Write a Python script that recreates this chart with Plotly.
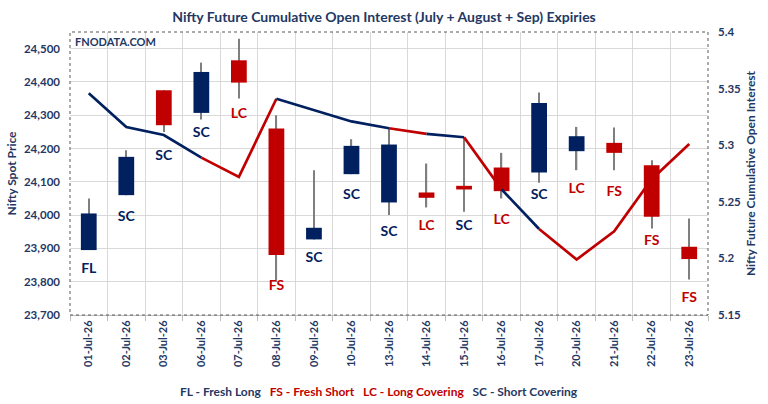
import plotly.graph_objects as go

dates = ['01-Jul-26', '02-Jul-26', '03-Jul-26', '06-Jul-26', '07-Jul-26', '08-Jul-26',
         '09-Jul-26', '10-Jul-26', '13-Jul-26', '14-Jul-26', '15-Jul-26', '16-Jul-26',
         '17-Jul-26', '20-Jul-26', '21-Jul-26', '22-Jul-26', '23-Jul-26']
open_ = [23895, 24060, 24375, 24307, 24465, 24260, 23927, 24123, 24038, 24068, 24088,
         24143, 24128, 24192, 24217, 24150, 23905]
close = [24005, 24175, 24270, 24430, 24398, 23880, 23962, 24208, 24212, 24052, 24077,
         24072, 24337, 24237, 24187, 23995, 23868]
high = [24050, 24195, 24375, 24458, 24530, 24300, 24135, 24228, 24260, 24155, 24232,
        24187, 24368, 24265, 24263, 24165, 23990]
low = [23895, 24060, 24250, 24287, 24350, 23800, 23927, 24123, 24000, 24023, 24010,
       24050, 24097, 24135, 24135, 23960, 23807]
oi = [5.346, 5.316, 5.309, 5.289, 5.272, 5.341, 5.331, 5.321, 5.315, 5.310, 5.307,
      5.261, 5.226, 5.199, 5.224, 5.270, 5.301]
labels = ['FL', 'SC', 'SC', 'SC', 'LC', 'FS', 'SC', 'SC', 'SC', 'LC', 'SC', 'LC', 'SC',
          'LC', 'FS', 'FS', 'FS']
label_y = [23837, 23992, 24175, 24245, 24303, 23787, 23870, 24058, 23948, 23967, 23967,
           23983, 24058, 24077, 24068, 23920, 23750]
right_ticks = [5.15, 5.2, 5.25, 5.3, 5.35, 5.4]

BLUE = '#002060'
RED = '#C00000'
TXT = '#1F3864'
FONT = 'Lato'


def lab_color(lab):
    return BLUE if lab in ('FL', 'SC') else RED


fig = go.Figure()

# wicks
fig.add_trace(go.Bar(
    x=dates, base=low, y=[h - l for h, l in zip(high, low)],
    width=0.035, marker=dict(color='#7F7F7F', line=dict(width=0)),
    hoverinfo='skip', showlegend=False))

# bodies
fig.add_trace(go.Bar(
    x=dates, base=[min(o, c) for o, c in zip(open_, close)],
    y=[abs(c - o) for o, c in zip(open_, close)],
    width=0.42,
    marker=dict(color=[BLUE if c >= o else RED for o, c in zip(open_, close)],
                line=dict(width=0)),
    showlegend=False))

# labels
fig.add_trace(go.Scatter(
    x=dates, y=label_y, mode='text', text=labels,
    textfont=dict(family=FONT, size=14, color=[lab_color(l) for l in labels], weight='bold'),
    showlegend=False, hoverinfo='skip'))

# OI line, coloured by segment
runs = []
cur = None
for i in range(1, len(dates)):
    col = lab_color(labels[i])
    if cur is None or cur[0] != col:
        cur = [col, [i - 1, i]]
        runs.append(cur)
    else:
        cur[1].append(i)
for col, idx in runs:
    fig.add_trace(go.Scatter(
        x=[dates[k] for k in idx], y=[oi[k] for k in idx], mode='lines',
        line=dict(color=col, width=2.7), yaxis='y2', showlegend=False))

fig.update_layout(
    width=768, height=404,
    margin=dict(l=68, r=60, t=32, b=89),
    paper_bgcolor='white', plot_bgcolor='white',
    barmode='overlay', showlegend=False,
    title=dict(text='Nifty Future Cumulative Open Interest (July + August + Sep) Expiries',
               x=0.5, xanchor='center', y=0.958, yanchor='middle',
               font=dict(family=FONT, size=14, color=TXT, weight='bold')),
    xaxis=dict(type='category', tickangle=-90, tickson='boundaries',
               ticks='outside', ticklen=5, tickcolor='#BFBFBF',
               showgrid=True, gridcolor='#D9D9D9', gridwidth=1,
               showline=True, linecolor='#BFBFBF',
               tickfont=dict(family=FONT, size=11, color=TXT, weight='bold'),
               range=[-0.5, len(dates) - 0.5]),
    yaxis=dict(range=[23700, 24550], dtick=100, tick0=23700, tickformat=',d',
               showgrid=True, gridcolor='#D9D9D9', zeroline=False,
               ticklabelstandoff=9,
               tickfont=dict(family=FONT, size=11.5, color=TXT, weight='bold'),
               title=dict(text='Nifty Spot Price', standoff=4,
                          font=dict(family=FONT, size=12, color=TXT, weight='bold'))),
    yaxis2=dict(range=[5.15, 5.4], overlaying='y', side='right',
                tickvals=right_ticks, ticktext=[f'{v:g}' for v in right_ticks],
                showgrid=False, zeroline=False, ticklabelstandoff=9,
                tickfont=dict(family=FONT, size=11.5, color=TXT, weight='bold'),
                title=dict(text='Nifty Future Cumulative Open Interest', standoff=6,
                           font=dict(family=FONT, size=12, color=TXT, weight='bold'))),
)

fig.add_shape(type='rect', xref='paper', yref='paper', x0=0, y0=0, x1=1, y1=1,
              line=dict(color='#595959', width=1, dash='dot'), layer='above')

fig.add_annotation(xref='paper', yref='paper', x=0.005, y=0.995, xanchor='left', yanchor='top',
                   text='FNODATA.COM', showarrow=False,
                   font=dict(family=FONT, size=11, color=TXT, weight='bold'))

legend_text = (f"<span style='color:{TXT}'>FL - Fresh Long</span>   "
               f"<span style='color:{RED}'>FS - Fresh Short</span>   "
               f"<span style='color:{RED}'>LC - Long Covering</span>   "
               f"<span style='color:{TXT}'>SC - Short Covering</span>")
fig.add_annotation(xref='paper', yref='paper', x=0.485, y=-0.27, xanchor='center', yanchor='middle',
                   yshift=0, text=legend_text, showarrow=False,
                   font=dict(family=FONT, size=12, weight='bold'))

fig.write_html('out.html')
